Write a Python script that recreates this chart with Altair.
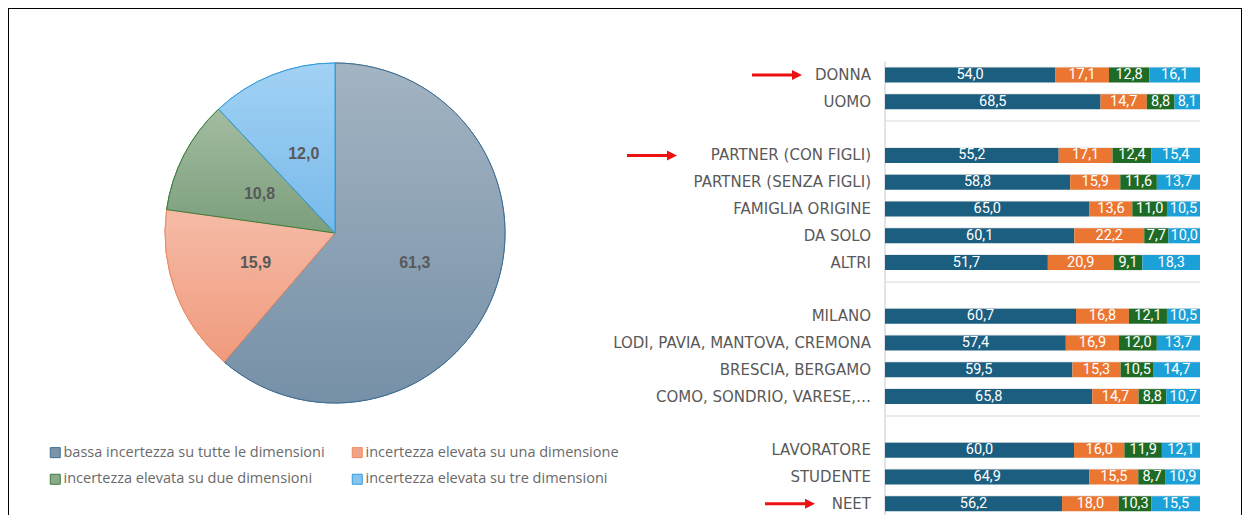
import altair as alt
import pandas as pd

# ---------------- data ----------------
series = [
    "bassa incertezza su tutte le dimensioni",
    "incertezza elevata su una dimensione",
    "incertezza elevata su due dimensioni",
    "incertezza elevata su tre dimensioni",
]
pie_values = [61.3, 15.9, 10.8, 12.0]

groups = [
    ["DONNA", "UOMO"],
    ["PARTNER (CON FIGLI)", "PARTNER (SENZA FIGLI)", "FAMIGLIA ORIGINE", "DA SOLO", "ALTRI"],
    ["MILANO", "LODI, PAVIA, MANTOVA, CREMONA", "BRESCIA, BERGAMO", "COMO, SONDRIO, VARESE,…"],
    ["LAVORATORE", "STUDENTE", "NEET"],
]
bassa = [54.0, 68.5, 55.2, 58.8, 65.0, 60.1, 51.7, 60.7, 57.4, 59.5, 65.8, 60.0, 64.9, 56.2]
una = [17.1, 14.7, 17.1, 15.9, 13.6, 22.2, 20.9, 16.8, 16.9, 15.3, 14.7, 16.0, 15.5, 18.0]
due = [12.8, 8.8, 12.4, 11.6, 11.0, 7.7, 9.1, 12.1, 12.0, 10.5, 8.8, 11.9, 8.7, 10.3]
tre = [16.1, 8.1, 15.4, 13.7, 10.5, 10.0, 18.3, 10.5, 13.7, 14.7, 10.7, 12.1, 10.9, 15.5]

arrow_rows = ["DONNA", "PARTNER (CON FIGLI)", "NEET"]

# ---------------- styles ----------------
W, H = 1234, 515
CX, CY, R = 327, 225, 170
ARROW_CENTER_X = [769, 644, 782]

bar_colors = ["#1B5E80", "#EB7632", "#1F6B26", "#1CA0D8"]
legend_fill = ["#7D93AA", "#F2A488", "#8BAA8A", "#88C3EE"]
pie_stroke = ["#3E6F92", "#EC8A62", "#3B7F3D", "#2F9DDC"]
grad_top = ["#A3B4C3", "#F5BBA7", "#A3BCA2", "#A2D2F4"]
grad_bot = ["#7690A7", "#F09A7C", "#7B9E7B", "#78B9EA"]


def fmt(v):
    return f"{v:.1f}".replace(".", ",")


# ---------------- tables ----------------
pie_df = pd.DataFrame({
    "series": series,
    "value": pie_values,
    "order": list(range(len(series))),
    "label": [fmt(v) for v in pie_values],
})

cats = [c for g in groups for c in g]
rows = []
for gi, g in enumerate(groups):
    if gi > 0:
        rows.append(" " * gi)
    rows.extend(g)

recs = []
for i, c in enumerate(cats):
    for j, vals in enumerate([bassa, una, due, tre]):
        recs.append({"row": c, "series": series[j], "order": j,
                     "value": vals[i], "label": fmt(vals[i])})
bar_df = pd.DataFrame(recs)
rows_df = pd.DataFrame({"row": rows})
cats_df = pd.DataFrame({"row": cats})
arrow_df = pd.DataFrame({"row": arrow_rows, "ax": ARROW_CENTER_X})

# ---------------- scales ----------------
step = 26.8
y0 = 67 - step / 2
yscale = alt.Scale(type="band", domain=rows, range=[y0, y0 + step * len(rows)],
                   paddingInner=0.44, paddingOuter=0.22)
xscale = alt.Scale(domain=[0, 1], range=[877, 1192], zero=False, nice=False)

# ---------------- pie ----------------
def grad(i):
    return {"gradient": "linear", "x1": 0, "y1": 0, "x2": 0, "y2": 1,
            "stops": [{"offset": 0, "color": grad_top[i]},
                      {"offset": 1, "color": grad_bot[i]}]}

fill_cond = alt.value(grad(0), condition=[
    {"test": f"datum.series === '{s}'", "value": grad(i)} for i, s in enumerate(series)
])
stroke_cond = alt.value(pie_stroke[0], condition=[
    {"test": f"datum.series === '{s}'", "value": pie_stroke[i]} for i, s in enumerate(series)
])

leg = alt.Legend(orient="none", legendX=40, legendY=437, columns=2, direction="horizontal",
                 title=None, symbolType="square", symbolSize=100, symbolStrokeWidth=1,
                 labelFont="Open Sans", labelFontSize=14.5, labelColor="#6A6A6A",
                 labelOffset=1, columnPadding=25, rowPadding=11, labelLimit=400)

theta = alt.Theta("value:Q", stack=True)
order = alt.Order("order:Q")

pie_legend = alt.Chart(pie_df).mark_arc(outerRadius=R, strokeWidth=1).encode(
    theta=theta, order=order,
    fill=alt.Fill("series:N", scale=alt.Scale(domain=series, range=legend_fill), legend=leg),
    stroke=alt.Stroke("series:N", scale=alt.Scale(domain=series, range=pie_stroke), legend=leg),
    x=alt.value(CX), y=alt.value(CY),
)
pie_top = alt.Chart(pie_df).mark_arc(outerRadius=R, strokeWidth=1).encode(
    theta=theta, order=order, fill=fill_cond, stroke=stroke_cond,
    x=alt.value(CX), y=alt.value(CY),
)
pie_text = alt.Chart(pie_df).mark_text(
    radius=85, fontSize=16, fontWeight="bold", color="#595959", font="Liberation Sans"
).encode(theta=theta, order=order, text="label:N", x=alt.value(CX), y=alt.value(CY))

# ---------------- bars ----------------
Y = alt.Y("row:N", scale=yscale, axis=None)

grid = alt.Chart(rows_df).mark_rule(color="#E4E4E4", strokeWidth=1.5).encode(
    y=alt.Y("row:N", scale=yscale, axis=None, bandPosition=0),
    x=alt.X(datum=0, type="quantitative", scale=xscale, axis=None),
    x2=alt.datum(1),
)
vline = alt.Chart(rows_df.head(1)).mark_rule(color="#DADADA", strokeWidth=1.5).encode(
    x=alt.X(datum=0, type="quantitative", scale=xscale, axis=None),
    y=alt.value(y0), y2=alt.value(H),
)

base_bar = alt.Chart(bar_df).transform_stack(
    stack="value", groupby=["row"], as_=["x0", "x1"], offset="normalize",
    sort=[alt.SortField("order", order="ascending")],
).transform_calculate(xm="(datum.x0 + datum.x1) / 2")

bars = base_bar.mark_bar().encode(
    y=Y,
    x=alt.X("x0:Q", scale=xscale, axis=None), x2="x1:Q",
    color=alt.Color("series:N", scale=alt.Scale(domain=series, range=bar_colors), legend=None),
)
bar_text = base_bar.mark_text(color="white", fontSize=14.5, font="Roboto").encode(
    y=Y, x=alt.X("xm:Q", scale=xscale, axis=None), text="label:N",
)

labels = alt.Chart(cats_df).mark_text(
    align="right", baseline="middle", dx=-14, font="DejaVu Sans", fontSize=15, color="#595959"
).encode(
    y=Y, x=alt.X(datum=0, type="quantitative", scale=xscale, axis=None), text="row:N",
)

arrow_path = "M-1,-0.06 L0.6,-0.06 L0.6,-0.2 L1,0 L0.6,0.2 L0.6,0.06 L-1,0.06 Z"
arrows = alt.Chart(arrow_df).mark_point(
    shape=arrow_path, size=2500, filled=True, color="#EE1111", opacity=1
).encode(y=Y, x=alt.X("ax:Q", scale=None))

chart = alt.layer(
    pie_legend, pie_top, pie_text, grid, vline, bars, bar_text, labels, arrows
).properties(
    width=W, height=H, autosize=alt.AutoSizeParams(type="none"), padding=0,
).configure_view(stroke="black", strokeWidth=2)

chart.save("out.html", embed_options={"renderer": "svg", "actions": False})
